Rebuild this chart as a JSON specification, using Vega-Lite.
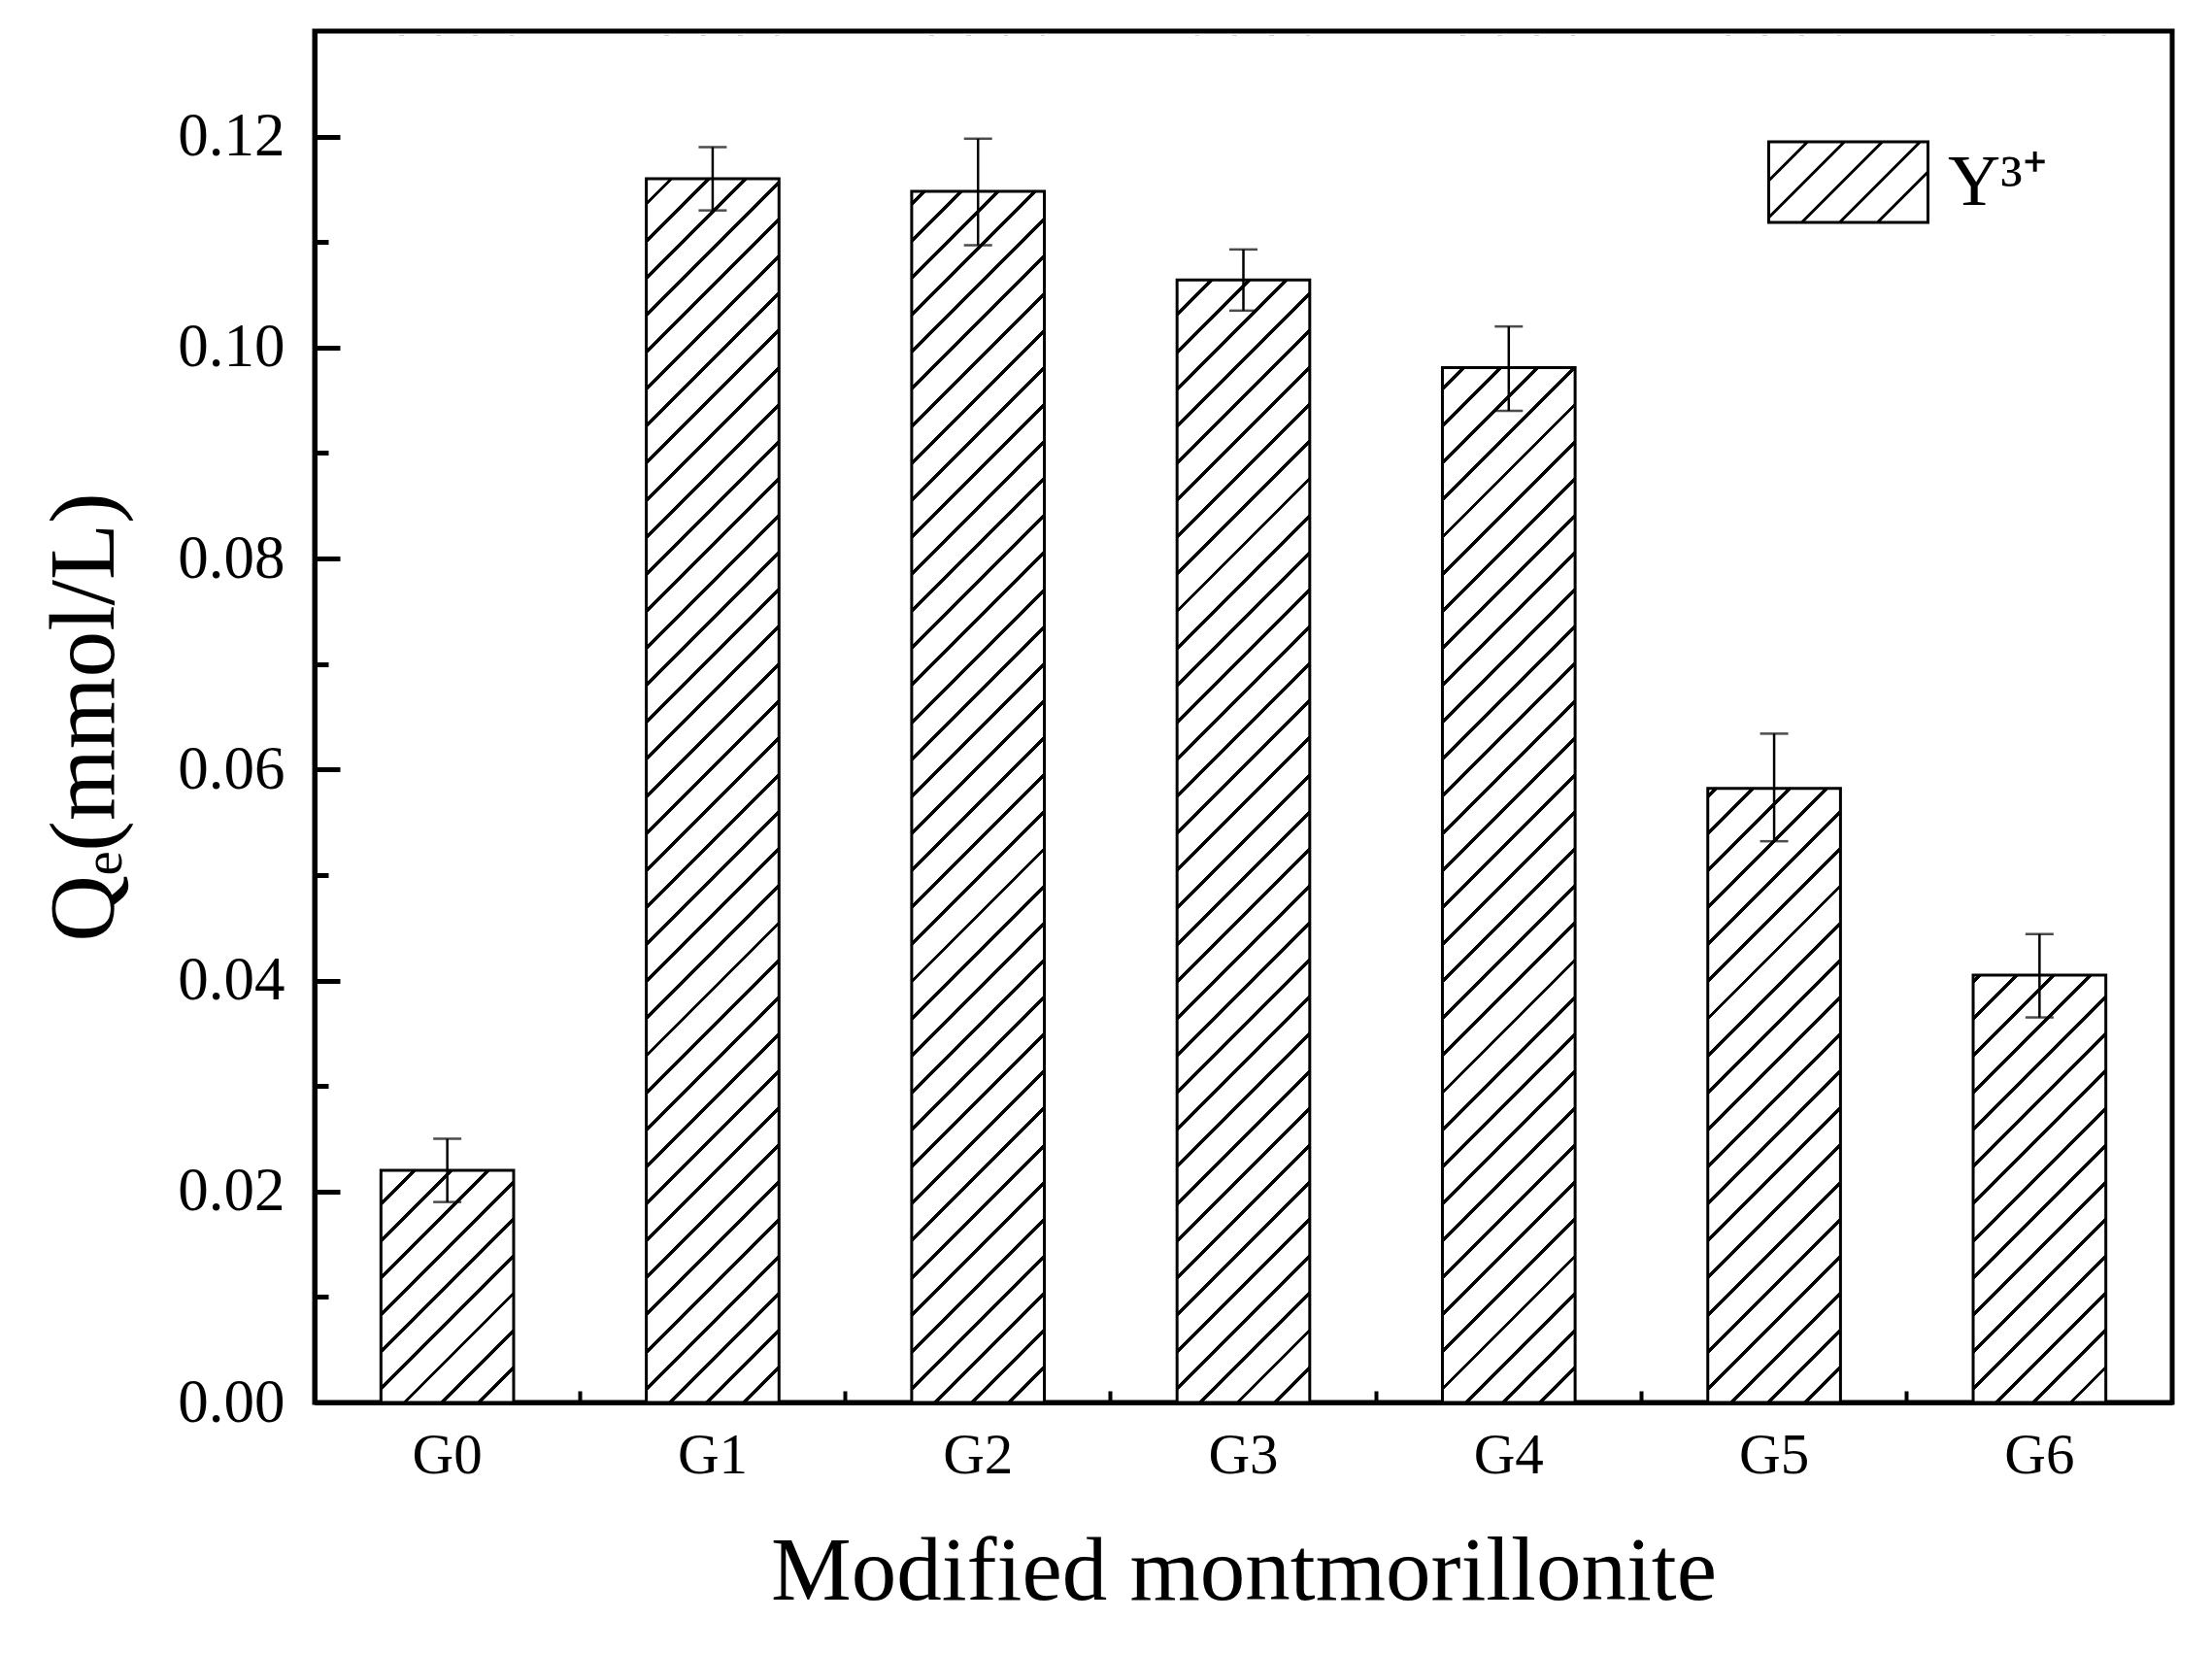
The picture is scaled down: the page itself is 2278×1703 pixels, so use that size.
{
  "$schema": "https://vega.github.io/schema/vega-lite/v6.json",
  "description": "Qe of Y3+ on modified montmorillonite, hatched bars with error bars",
  "width": 1913,
  "height": 1412,
  "autosize": {"type": "none"},
  "padding": {"left": 324, "top": 32, "right": 41, "bottom": 259},
  "background": "white",
  "data": {
    "values": [
      {"group": "G0", "qe": 0.0220, "lo": 0.0190, "hi": 0.0250},
      {"group": "G1", "qe": 0.1160, "lo": 0.1130, "hi": 0.1190},
      {"group": "G2", "qe": 0.1148, "lo": 0.1097, "hi": 0.1198},
      {"group": "G3", "qe": 0.1064, "lo": 0.1035, "hi": 0.1093},
      {"group": "G4", "qe": 0.0981, "lo": 0.0940, "hi": 0.1020},
      {"group": "G5", "qe": 0.0582, "lo": 0.0532, "hi": 0.0634},
      {"group": "G6", "qe": 0.0405, "lo": 0.0365, "hi": 0.0444}
    ]
  },
  "resolve": {"axis": {"x": "independent", "y": "independent"}},
  "layer": [
    {
      "mark": {
        "type": "bar",
        "width": {"band": 0.5},
        "fill": {
          "gradient": "linear",
          "x1": 0, "y1": 0, "x2": 0.1055, "y2": 1.08683,
          "stops": [
            {"offset": 0.012, "color": "white"}, {"offset": 0.012, "color": "black"}, {"offset": 0.0152, "color": "black"}, {"offset": 0.0152, "color": "white"},
            {"offset": 0.03669, "color": "white"}, {"offset": 0.03669, "color": "black"}, {"offset": 0.03989, "color": "black"}, {"offset": 0.03989, "color": "white"},
            {"offset": 0.06138, "color": "white"}, {"offset": 0.06138, "color": "black"}, {"offset": 0.06458, "color": "black"}, {"offset": 0.06458, "color": "white"},
            {"offset": 0.08607, "color": "white"}, {"offset": 0.08607, "color": "black"}, {"offset": 0.08927, "color": "black"}, {"offset": 0.08927, "color": "white"},
            {"offset": 0.11077, "color": "white"}, {"offset": 0.11077, "color": "black"}, {"offset": 0.11397, "color": "black"}, {"offset": 0.11397, "color": "white"},
            {"offset": 0.13546, "color": "white"}, {"offset": 0.13546, "color": "black"}, {"offset": 0.13866, "color": "black"}, {"offset": 0.13866, "color": "white"},
            {"offset": 0.16015, "color": "white"}, {"offset": 0.16015, "color": "black"}, {"offset": 0.16335, "color": "black"}, {"offset": 0.16335, "color": "white"},
            {"offset": 0.18484, "color": "white"}, {"offset": 0.18484, "color": "black"}, {"offset": 0.18804, "color": "black"}, {"offset": 0.18804, "color": "white"},
            {"offset": 0.20953, "color": "white"}, {"offset": 0.20953, "color": "black"}, {"offset": 0.21273, "color": "black"}, {"offset": 0.21273, "color": "white"},
            {"offset": 0.23422, "color": "white"}, {"offset": 0.23422, "color": "black"}, {"offset": 0.23742, "color": "black"}, {"offset": 0.23742, "color": "white"},
            {"offset": 0.25891, "color": "white"}, {"offset": 0.25891, "color": "black"}, {"offset": 0.26211, "color": "black"}, {"offset": 0.26211, "color": "white"},
            {"offset": 0.28360, "color": "white"}, {"offset": 0.28360, "color": "black"}, {"offset": 0.28680, "color": "black"}, {"offset": 0.28680, "color": "white"},
            {"offset": 0.30830, "color": "white"}, {"offset": 0.30830, "color": "black"}, {"offset": 0.31150, "color": "black"}, {"offset": 0.31150, "color": "white"},
            {"offset": 0.33299, "color": "white"}, {"offset": 0.33299, "color": "black"}, {"offset": 0.33619, "color": "black"}, {"offset": 0.33619, "color": "white"},
            {"offset": 0.35768, "color": "white"}, {"offset": 0.35768, "color": "black"}, {"offset": 0.36088, "color": "black"}, {"offset": 0.36088, "color": "white"},
            {"offset": 0.38237, "color": "white"}, {"offset": 0.38237, "color": "black"}, {"offset": 0.38557, "color": "black"}, {"offset": 0.38557, "color": "white"},
            {"offset": 0.40706, "color": "white"}, {"offset": 0.40706, "color": "black"}, {"offset": 0.41026, "color": "black"}, {"offset": 0.41026, "color": "white"},
            {"offset": 0.43175, "color": "white"}, {"offset": 0.43175, "color": "black"}, {"offset": 0.43495, "color": "black"}, {"offset": 0.43495, "color": "white"},
            {"offset": 0.45644, "color": "white"}, {"offset": 0.45644, "color": "black"}, {"offset": 0.45964, "color": "black"}, {"offset": 0.45964, "color": "white"},
            {"offset": 0.48114, "color": "white"}, {"offset": 0.48114, "color": "black"}, {"offset": 0.48434, "color": "black"}, {"offset": 0.48434, "color": "white"},
            {"offset": 0.50583, "color": "white"}, {"offset": 0.50583, "color": "black"}, {"offset": 0.50903, "color": "black"}, {"offset": 0.50903, "color": "white"},
            {"offset": 0.53052, "color": "white"}, {"offset": 0.53052, "color": "black"}, {"offset": 0.53372, "color": "black"}, {"offset": 0.53372, "color": "white"},
            {"offset": 0.55521, "color": "white"}, {"offset": 0.55521, "color": "black"}, {"offset": 0.55841, "color": "black"}, {"offset": 0.55841, "color": "white"},
            {"offset": 0.57990, "color": "white"}, {"offset": 0.57990, "color": "black"}, {"offset": 0.58310, "color": "black"}, {"offset": 0.58310, "color": "white"},
            {"offset": 0.60459, "color": "white"}, {"offset": 0.60459, "color": "black"}, {"offset": 0.60779, "color": "black"}, {"offset": 0.60779, "color": "white"},
            {"offset": 0.62928, "color": "white"}, {"offset": 0.62928, "color": "black"}, {"offset": 0.63248, "color": "black"}, {"offset": 0.63248, "color": "white"},
            {"offset": 0.65398, "color": "white"}, {"offset": 0.65398, "color": "black"}, {"offset": 0.65718, "color": "black"}, {"offset": 0.65718, "color": "white"},
            {"offset": 0.67867, "color": "white"}, {"offset": 0.67867, "color": "black"}, {"offset": 0.68187, "color": "black"}, {"offset": 0.68187, "color": "white"},
            {"offset": 0.70336, "color": "white"}, {"offset": 0.70336, "color": "black"}, {"offset": 0.70656, "color": "black"}, {"offset": 0.70656, "color": "white"},
            {"offset": 0.72805, "color": "white"}, {"offset": 0.72805, "color": "black"}, {"offset": 0.73125, "color": "black"}, {"offset": 0.73125, "color": "white"},
            {"offset": 0.75274, "color": "white"}, {"offset": 0.75274, "color": "black"}, {"offset": 0.75594, "color": "black"}, {"offset": 0.75594, "color": "white"},
            {"offset": 0.77743, "color": "white"}, {"offset": 0.77743, "color": "black"}, {"offset": 0.78063, "color": "black"}, {"offset": 0.78063, "color": "white"},
            {"offset": 0.80212, "color": "white"}, {"offset": 0.80212, "color": "black"}, {"offset": 0.80532, "color": "black"}, {"offset": 0.80532, "color": "white"},
            {"offset": 0.82681, "color": "white"}, {"offset": 0.82681, "color": "black"}, {"offset": 0.83001, "color": "black"}, {"offset": 0.83001, "color": "white"},
            {"offset": 0.85151, "color": "white"}, {"offset": 0.85151, "color": "black"}, {"offset": 0.85471, "color": "black"}, {"offset": 0.85471, "color": "white"},
            {"offset": 0.87620, "color": "white"}, {"offset": 0.87620, "color": "black"}, {"offset": 0.87940, "color": "black"}, {"offset": 0.87940, "color": "white"},
            {"offset": 0.90089, "color": "white"}, {"offset": 0.90089, "color": "black"}, {"offset": 0.90409, "color": "black"}, {"offset": 0.90409, "color": "white"},
            {"offset": 0.92558, "color": "white"}, {"offset": 0.92558, "color": "black"}, {"offset": 0.92878, "color": "black"}, {"offset": 0.92878, "color": "white"},
            {"offset": 0.95027, "color": "white"}, {"offset": 0.95027, "color": "black"}, {"offset": 0.95347, "color": "black"}, {"offset": 0.95347, "color": "white"},
            {"offset": 0.97496, "color": "white"}, {"offset": 0.97496, "color": "black"}, {"offset": 0.97816, "color": "black"}, {"offset": 0.97816, "color": "white"}
          ]
        }
      },
      "encoding": {
        "x": {
          "field": "group",
          "type": "nominal",
          "scale": {"paddingInner": 0, "paddingOuter": 0},
          "axis": {
            "title": "Modified montmorillonite",
            "orient": "bottom",
            "labelAngle": 0,
            "bandPosition": 0.5,
            "tickSize": -25,
            "tickWidth": 4,
            "labelPadding": 50,
            "labelFontSize": 59,
            "titleFontSize": 93,
            "titlePadding": 45
          }
        },
        "y": {
          "datum": 0.1296,
          "type": "quantitative",
          "scale": {"domain": [0, 0.13], "nice": false, "zero": true},
          "axis": {
            "title": "Qₑ(mmol/L)",
            "orient": "left",
            "values": [0, 0.02, 0.04, 0.06, 0.08, 0.1, 0.12],
            "format": ".2f",
            "tickSize": -26,
            "tickWidth": 5,
            "labelPadding": 57,
            "labelFontSize": 63,
            "titleFontSize": 95,
            "titlePadding": 46
          }
        }
      }
    },
    {
      "mark": {"type": "bar", "width": {"band": 0.52}, "fill": "white", "strokeWidth": 0},
      "encoding": {
        "x": {"field": "group", "type": "nominal", "axis": null},
        "y": {"field": "qe", "type": "quantitative", "axis": null},
        "y2": {"datum": 0.1296}
      }
    },
    {
      "mark": {"type": "bar", "width": {"band": 0.5}, "fill": "transparent", "strokeWidth": 3},
      "encoding": {
        "x": {"field": "group", "type": "nominal", "axis": null},
        "y": {"field": "qe", "type": "quantitative", "axis": null},
        "stroke": {
          "datum": "Y³⁺",
          "type": "nominal",
          "scale": {"range": ["black"]},
          "legend": {
            "orient": "none",
            "legendX": 1496,
            "legendY": 72,
            "title": null,
            "padding": 0,
            "symbolType": "M-1,-0.506H1V0.506H-1Z M-0.512,-0.506L-1,-0.018 M-0.049,-0.506L-1,0.445 M0.427,-0.506L-0.585,0.506 M0.902,-0.506L-0.11,0.506 M1,-0.128L0.366,0.506",
            "symbolSize": 26896,
            "symbolStrokeWidth": 3,
            "symbolFillColor": "transparent",
            "labelFont": "Liberation Serif",
            "labelFontSize": 75,
            "labelColor": "black",
            "labelOffset": 19,
            "labelLimit": 0
          }
        }
      }
    },
    {
      "mark": {"type": "errorbar", "ticks": {"size": 29, "thickness": 2.5}, "thickness": 2.5, "color": "black"},
      "encoding": {
        "x": {
          "field": "group",
          "type": "nominal",
          "axis": {
            "orient": "bottom",
            "title": null,
            "values": ["G1", "G2", "G3", "G4", "G5", "G6"],
            "bandPosition": 0,
            "tickSize": -12,
            "tickWidth": 4,
            "labels": false,
            "domain": false
          }
        },
        "y": {
          "field": "hi",
          "type": "quantitative",
          "axis": {
            "orient": "left",
            "title": null,
            "values": [0.01, 0.03, 0.05, 0.07, 0.09, 0.11],
            "tickSize": -14,
            "tickWidth": 5,
            "labels": false,
            "domain": false
          }
        },
        "y2": {"field": "lo"}
      }
    }
  ],
  "config": {
    "view": {"stroke": "black", "strokeWidth": 5},
    "font": "Liberation Serif",
    "axis": {
      "labelFont": "Liberation Serif",
      "titleFont": "Liberation Serif",
      "labelColor": "black",
      "titleColor": "black",
      "titleFontWeight": "normal",
      "domainColor": "black",
      "domainWidth": 5,
      "tickColor": "black",
      "grid": false,
      "zindex": 1
    }
  }
}
